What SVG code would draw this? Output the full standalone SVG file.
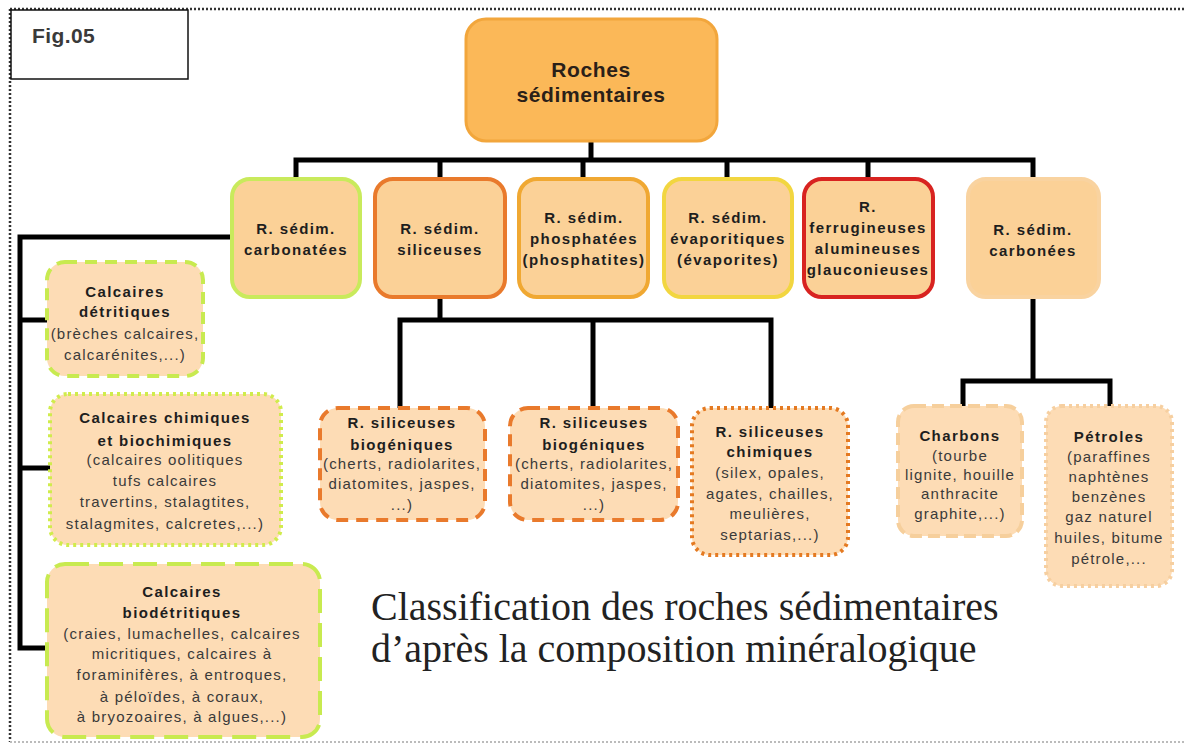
<svg xmlns="http://www.w3.org/2000/svg" width="1186" height="749" viewBox="0 0 1186 749">
<style>
.b{font-family:"Liberation Sans",Arial,sans-serif;font-weight:bold;font-size:15px;letter-spacing:1.4px;fill:#1e1e1e;text-anchor:middle}
.r{font-family:"Liberation Sans",Arial,sans-serif;font-size:15px;letter-spacing:1.2px;fill:#3a3a3a;text-anchor:middle}
.root{font-family:"Liberation Sans",Arial,sans-serif;font-weight:bold;font-size:21px;letter-spacing:0.6px;fill:#2a2018;text-anchor:middle}
.title{font-family:"Liberation Serif","Times New Roman",serif;font-size:40px;fill:#222}
.l2{fill:#fbd197;stroke-width:4}
.ch{fill:#fddcb5;stroke-width:4}
.conn{fill:none;stroke:#000;stroke-width:5}
</style>
<rect width="1186" height="749" fill="#fff"/>
<g id="frame">
<path d="M10 9 H1186" stroke="#333" stroke-width="2.5" stroke-dasharray="2 2" fill="none"/>
<path d="M10 9 V742" stroke="#333" stroke-width="2.5" stroke-dasharray="2 2" fill="none"/>
<path d="M10 742 H1186" stroke="#bbb" stroke-width="2" stroke-dasharray="2 2" fill="none"/>
</g>
<g id="fig">
<rect x="11" y="10" width="177" height="69" fill="#fff" stroke="#111" stroke-width="1.5"/>
<text x="32" y="43" style="font-family:'Liberation Sans',Arial,sans-serif;font-weight:bold;font-size:21px;letter-spacing:0.4px;fill:#3a3a3a">Fig.05</text>
</g>
<g id="connectors">
<path class="conn" d="M591 140 V160"/>
<path class="conn" d="M296 177 V160 H1033 V177"/>
<path class="conn" d="M440 160 V177 M583 160 V177 M727 160 V177 M868 160 V177"/>
<path class="conn" d="M232 237 H20 V648 H47"/>
<path class="conn" d="M20 320 H47 M20 468 H50"/>
<path class="conn" d="M440 296 V320"/>
<path class="conn" d="M400 408 V320 H771 V408"/>
<path class="conn" d="M593 320 V408"/>
<path class="conn" d="M1033 296 V381"/>
<path class="conn" d="M963 407 V381 H1110 V407"/>
</g>
<g id="root">
<rect x="466" y="19" width="251" height="122" rx="20" fill="#fbb858" stroke="#f2a63c" stroke-width="3"/>
<text class="root" x="591" y="77">Roches</text>
<text class="root" x="591" y="102">sédimentaires</text>
</g>
<g id="carbonatees">
<rect class="l2" x="232" y="179" width="128" height="118" rx="18" stroke="#c9ea5c"/>
<text class="b" x="296" y="234">R. sédim.</text>
<text class="b" x="296" y="255">carbonatées</text>
</g>
<g id="siliceuses">
<rect class="l2" x="375" y="179" width="130" height="118" rx="18" stroke="#e97a2c"/>
<text class="b" x="440" y="234">R. sédim.</text>
<text class="b" x="440" y="255">siliceuses</text>
</g>
<g id="phosphatees">
<rect class="l2" x="519" y="179" width="129" height="118" rx="18" stroke="#f0a832" stroke-width="3"/>
<text class="b" x="584" y="223">R. sédim.</text>
<text class="b" x="584" y="244">phosphatées</text>
<text class="b" x="584" y="265">(phosphatites)</text>
</g>
<g id="evaporitiques">
<rect class="l2" x="664" y="179" width="128" height="118" rx="18" stroke="#f2d640"/>
<text class="b" x="728" y="223">R. sédim.</text>
<text class="b" x="728" y="244">évaporitiques</text>
<text class="b" x="728" y="265">(évaporites)</text>
</g>
<g id="ferrugineuses">
<rect class="l2" x="804" y="179" width="129" height="118" rx="18" stroke="#d82320"/>
<text class="b" x="868" y="212">R.</text>
<text class="b" x="868" y="233">ferrugineuses</text>
<text class="b" x="868" y="254">alumineuses</text>
<text class="b" x="868" y="275">glauconieuses</text>
</g>
<g id="carbonees">
<rect class="l2" x="968" y="179" width="131" height="118" rx="18" stroke="#f9d3a0" stroke-width="2"/>
<text class="b" x="1033" y="235">R. sédim.</text>
<text class="b" x="1033" y="256">carbonées</text>
</g>
<g id="calc-detritiques">
<rect class="ch" x="47" y="262" width="156" height="114" rx="18" stroke="#c8ea50" stroke-dasharray="12 8"/>
<text class="b" x="125" y="297">Calcaires</text>
<text class="b" x="125" y="317">détritiques</text>
<text class="r" x="125" y="339">(brèches calcaires,</text>
<text class="r" x="125" y="360">calcarénites,...)</text>
</g>
<g id="calc-chimiques">
<rect class="ch" x="50" y="394" width="231" height="151" rx="18" stroke="#d0ec4c" stroke-dasharray="3 4"/>
<text class="b" x="165" y="423">Calcaires chimiques</text>
<text class="b" x="165" y="446">et biochimiques</text>
<text class="r" x="165" y="465">(calcaires oolitiques</text>
<text class="r" x="165" y="486">tufs calcaires</text>
<text class="r" x="165" y="507">travertins, stalagtites,</text>
<text class="r" x="165" y="529">stalagmites, calcretes,...)</text>
</g>
<g id="calc-biodetritiques">
<rect class="ch" x="47" y="564" width="273" height="173" rx="18" stroke="#c8ea50" stroke-dasharray="24 10"/>
<text class="b" x="182" y="597">Calcaires</text>
<text class="b" x="182" y="618">biodétritiques</text>
<text class="r" x="182" y="639">(craies, lumachelles, calcaires</text>
<text class="r" x="182" y="659">micritiques, calcaires à</text>
<text class="r" x="182" y="680">foraminifères, à entroques,</text>
<text class="r" x="182" y="702">à péloïdes, à coraux,</text>
<text class="r" x="182" y="722">à bryozoaires, à algues,...)</text>
</g>
<g id="sil-biogeniques-1">
<rect class="ch" x="320" y="408" width="165" height="112" rx="18" stroke="#e97a2c" stroke-dasharray="12 8"/>
<text class="b" x="402" y="428">R. siliceuses</text>
<text class="b" x="402" y="450">biogéniques</text>
<text class="r" x="402" y="469">(cherts, radiolarites,</text>
<text class="r" x="402" y="489">diatomites, jaspes,</text>
<text class="r" x="402" y="510">...)</text>
</g>
<g id="sil-biogeniques-2">
<rect class="ch" x="510" y="408" width="168" height="112" rx="18" stroke="#e97a2c" stroke-dasharray="12 8"/>
<text class="b" x="594" y="428">R. siliceuses</text>
<text class="b" x="594" y="450">biogéniques</text>
<text class="r" x="594" y="469">(cherts, radiolarites,</text>
<text class="r" x="594" y="489">diatomites, jaspes,</text>
<text class="r" x="594" y="510">...)</text>
</g>
<g id="sil-chimiques">
<rect class="ch" x="692" y="408" width="156" height="147" rx="18" stroke="#e47a22" stroke-dasharray="3 4"/>
<text class="b" x="770" y="437">R. siliceuses</text>
<text class="b" x="770" y="457">chimiques</text>
<text class="r" x="770" y="478">(silex, opales,</text>
<text class="r" x="770" y="499">agates, chailles,</text>
<text class="r" x="770" y="519">meulières,</text>
<text class="r" x="770" y="540">septarias,...)</text>
</g>
<g id="charbons">
<rect class="ch" x="898" y="406" width="124" height="130" rx="16" stroke="#f6cf9c" stroke-width="3" stroke-dasharray="12 6"/>
<text class="b" x="960" y="441">Charbons</text>
<text class="r" x="960" y="461">(tourbe</text>
<text class="r" x="960" y="480">lignite, houille</text>
<text class="r" x="960" y="499">anthracite</text>
<text class="r" x="960" y="519">graphite,...)</text>
</g>
<g id="petroles">
<rect class="ch" x="1046" y="406" width="126" height="180" rx="16" stroke="#f6cfa0" stroke-width="3" stroke-dasharray="3 4"/>
<text class="b" x="1109" y="442">Pétroles</text>
<text class="r" x="1109" y="462">(paraffines</text>
<text class="r" x="1109" y="482">naphtènes</text>
<text class="r" x="1109" y="502">benzènes</text>
<text class="r" x="1109" y="522">gaz naturel</text>
<text class="r" x="1109" y="543">huiles, bitume</text>
<text class="r" x="1109" y="564">pétrole,...</text>
</g>
<g id="title">
<text class="title" x="371" y="620">Classification des roches sédimentaires</text>
<text class="title" x="371" y="662">d’après la composition minéralogique</text>
</g>
</svg>
